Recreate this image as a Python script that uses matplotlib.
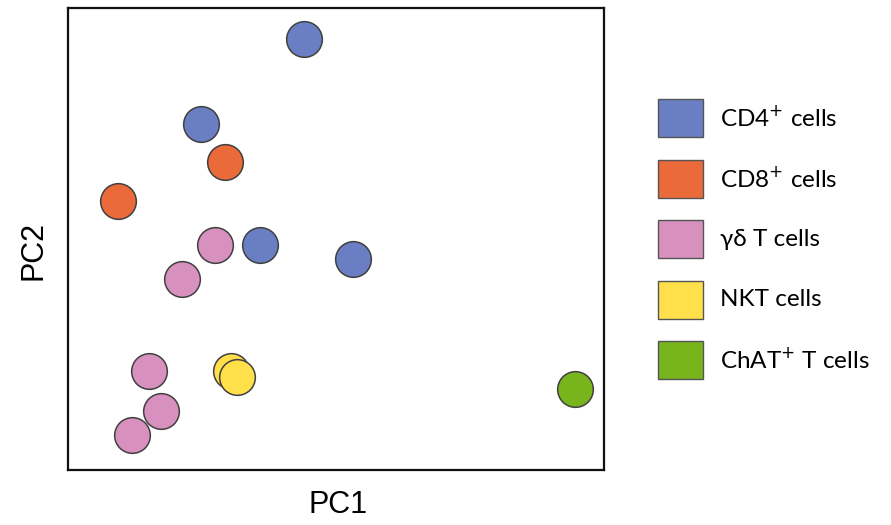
import matplotlib.pyplot as plt
from matplotlib.patches import Rectangle

# PCA scores per cell population (arbitrary PC units)
groups = ["CD4", "CD8", "gd", "NKT", "ChAT"]
labels = ["CD4$^{+}$ cells", "CD8$^{+}$ cells", "\u03b3\u03b4 T cells", "NKT cells", "ChAT$^{+}$ T cells"]
colors = ["#6a7fc3", "#ea6a39", "#d891bf", "#ffe04a", "#78b51d"]

pc1 = {
    "CD4": [44.0, 24.8, 35.8, 53.2],
    "CD8": [29.3, 9.3],
    "gd": [27.4, 21.3, 15.1, 17.4, 11.9],
    "NKT": [30.4, 31.5],
    "ChAT": [94.6],
}
pc2 = {
    "CD4": [93.3, 74.9, 48.7, 45.7],
    "CD8": [66.7, 58.2],
    "gd": [48.7, 41.3, 21.4, 12.8, 7.6],
    "NKT": [21.4, 20.1],
    "ChAT": [17.5],
}

fig = plt.figure(figsize=(8.91, 5.25), dpi=100)
ax = fig.add_axes([68 / 891, 55 / 525, 536 / 891, 462 / 525])

for g, c in zip(groups, colors):
    ax.scatter(pc1[g], pc2[g], s=660, color=c, edgecolors="#404040",
               linewidths=1.1, zorder=3)

ax.set_xlim(0, 100)
ax.set_ylim(0, 100)
ax.set_xticks([])
ax.set_yticks([])
for sp in ax.spines.values():
    sp.set_linewidth(1.6)
    sp.set_color("#111111")

fig.text(338 / 891, 1 - 505 / 525, "PC1", fontsize=22, family="Liberation Sans",
         ha="center", va="center")
fig.text(33 / 891, 1 - 250 / 525, "PC2", fontsize=22, family="Liberation Sans",
         ha="center", va="center", rotation=90)

# hand-placed legend in pixel space
leg = fig.add_axes([0, 0, 1, 1], facecolor="none")
leg.set_xlim(0, 891)
leg.set_ylim(525, 0)
leg.axis("off")
for i, (lab, c) in enumerate(zip(labels, colors)):
    yc = 118 + i * 60.5
    leg.add_patch(Rectangle((658, yc - 19), 45, 38, facecolor=c,
                            edgecolor="#555555", linewidth=1.0))
    leg.text(720, yc, lab, fontsize=17.5, family=["Lato", "DejaVu Serif"],
             ha="left", va="center")

fig.savefig("out.png", dpi=100)
